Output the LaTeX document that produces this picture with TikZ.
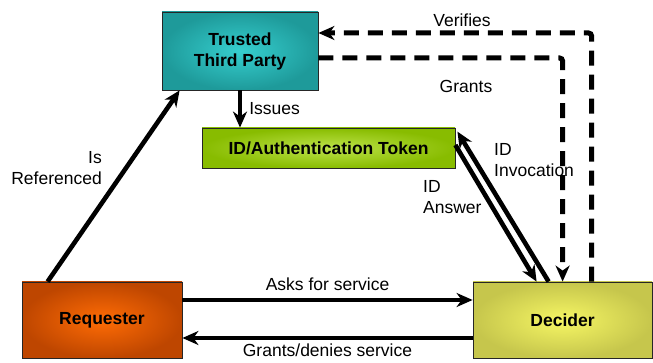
\documentclass[tikz,border=0pt]{standalone}
\usepackage{fontspec}
\setmainfont{Liberation Sans}
\usepackage{xcolor}
\usetikzlibrary{arrows.meta, positioning, calc}

\definecolor{ttpout}{HTML}{1E9A9A}
\definecolor{ttpin}{HTML}{36CFCF}
\definecolor{tokout}{HTML}{88BC00}
\definecolor{tokin}{HTML}{BDE34A}
\definecolor{reqout}{HTML}{BE4600}
\definecolor{reqin}{HTML}{FF6C05}
\definecolor{decout}{HTML}{C6C64C}
\definecolor{decin}{HTML}{F6F664}

\begin{document}
\begin{tikzpicture}[
    x=1pt, y=1pt,
    box/.style={rectangle, draw=black!85, line width=0.8pt, align=center, inner sep=2pt, shading=radial, font=\fontsize{17.5}{21}\selectfont\bfseries},
    lbl/.style={inner sep=0pt, font=\fontsize{17.5}{21}\selectfont},
    line/.style={draw, -{Stealth[length=16pt, width=14pt, inset=5pt]}, line width=4.6pt, color=black},
    dline/.style={line, line width=5pt, dash pattern=on 15pt off 9pt, rounded corners=3pt}
]
    \useasboundingbox (0,0) rectangle (653,363);

    % Nodes
    \node (ttp) [box, inner color=ttpin, outer color=ttpout, minimum width=156pt, minimum height=78pt] at (240,312) {Trusted\\Third Party};
    \node (token) [box, inner color=tokin, outer color=tokout, minimum width=253pt, minimum height=40pt] at (328.5,215) {ID/Authentication Token};
    \node (requester) [box, inner color=reqin, outer color=reqout, minimum width=160pt, minimum height=76pt] at (102,43) {Requester};
    \node (decider) [box, inner color=decin, outer color=decout, minimum width=179pt, minimum height=76pt] at (562.5,43) {Decider};

    % Solid connectors
    \draw [line] (ttp.south) -- node[lbl, right=7pt] {Issues} (ttp.south |- token.north);
    \draw [line] ($(requester.north west)+(26,0)$) -- ($(ttp.south west)+(18,0)$);
    \node (lbl_ref) [lbl, align=right, anchor=east] at (102,195) {Is\\Referenced};

    \draw [line] ($(requester.east)+(0,20)$) -- node[lbl, above=7pt] {Asks for service} ($(decider.west)+(0,20)$);
    \draw [line] ($(decider.west)+(0,-18)$) -- node[lbl, below=4pt] {Grants/denies service} ($(requester.east)+(0,-18)$);

    \draw [line] ($(token.east)+(0,3)$) -- ($(decider.north west)+(64,0)$);
    \draw [line] ($(decider.north west)+(76,0)$) -- ($(token.north east)+(2,-4)$);
    \node (lbl_inv) [lbl, align=left, anchor=west] at (494,203) {ID\\Invocation};
    \node (lbl_ans) [lbl, align=left, anchor=west] at (423,166) {ID\\Answer};

    % Dashed connectors
    \draw [dline] ($(decider.north west)+(119,0)$) |- ($(ttp.east)+(0,18)$);
    \draw [dline] ($(ttp.east)+(0,-7)$) -| ($(decider.north west)+(90,0)$);
    \node (lbl_ver) [lbl] at (462,343) {Verifies};
    \node (lbl_gr) [lbl] at (466,277) {Grants};

\end{tikzpicture}
\end{document}
